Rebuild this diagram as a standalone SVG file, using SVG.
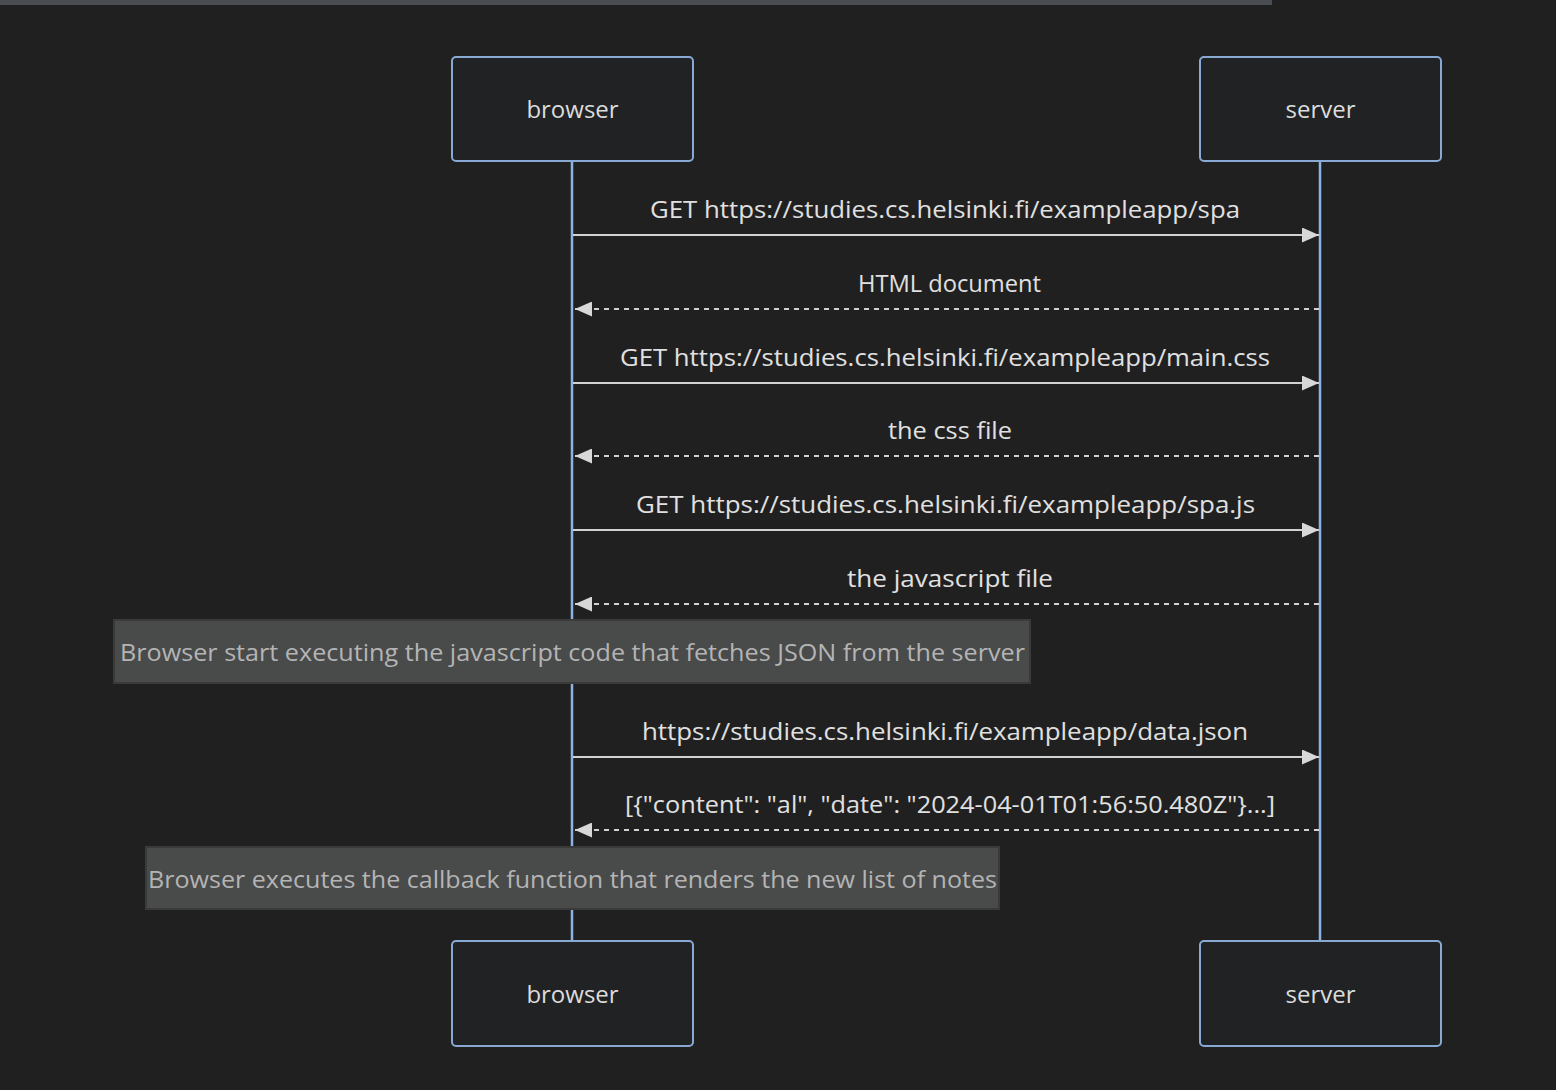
<svg xmlns="http://www.w3.org/2000/svg" width="1556" height="1090" viewBox="0 0 1556 1090">
<defs>
<style>
.actor{fill:#212223;stroke:#87a9d4;stroke-width:2}
.atext{font-family:"Open Sans","DejaVu Sans",sans-serif;font-size:24px;fill:#dcdcdc;text-anchor:middle;dominant-baseline:central}
.life{stroke:#8db3e2;stroke-width:2.5}
.msg{stroke:#d2d2d2;stroke-width:2;fill:none}
.dash{stroke-dasharray:5,5}
.mtext{font-family:"Open Sans","DejaVu Sans",sans-serif;font-size:24px;fill:#e0e0e0;text-anchor:middle;dominant-baseline:central}
.note{fill:#494a4a;stroke:#3a3a3a;stroke-width:2}
.ntext{font-family:"Open Sans","DejaVu Sans",sans-serif;font-size:24px;fill:#b4b4b4;text-anchor:middle;dominant-baseline:central}
</style>
<marker id="ah" viewBox="0 0 17 15" refX="17" refY="7.5" markerWidth="17" markerHeight="15" markerUnits="userSpaceOnUse" orient="auto">
<path d="M0,0 L17,7.5 L0,15 Z" fill="#d8d8d8"/>
</marker>
</defs>
<rect width="1556" height="1090" fill="#202020"/>
<rect x="0" y="0" width="1272" height="5" fill="#4a4d52"/>
<g id="lifelines">
<line class="life" x1="572" y1="161" x2="572" y2="941"/>
<line class="life" x1="1320" y1="161" x2="1320" y2="941"/>
</g>
<g id="actor-browser-top"><rect class="actor" x="452" y="57" width="241" height="104" rx="4"/><text class="atext" x="572.5" y="108">browser</text></g>
<g id="actor-server-top"><rect class="actor" x="1200" y="57" width="241" height="104" rx="4"/><text class="atext" x="1320.5" y="108">server</text></g>
<g id="actor-browser-bottom"><rect class="actor" x="452" y="941" width="241" height="105" rx="4"/><text class="atext" x="572.5" y="993">browser</text></g>
<g id="actor-server-bottom"><rect class="actor" x="1200" y="941" width="241" height="105" rx="4"/><text class="atext" x="1320.5" y="993">server</text></g>
<g id="connectors">
<line class="msg" x1="573" y1="235" x2="1319" y2="235" marker-end="url(#ah)"/>
<line class="msg dash" x1="1319" y1="309" x2="575" y2="309" marker-end="url(#ah)"/>
<line class="msg" x1="573" y1="383" x2="1319" y2="383" marker-end="url(#ah)"/>
<line class="msg dash" x1="1319" y1="456" x2="575" y2="456" marker-end="url(#ah)"/>
<line class="msg" x1="573" y1="530" x2="1319" y2="530" marker-end="url(#ah)"/>
<line class="msg dash" x1="1319" y1="604" x2="575" y2="604" marker-end="url(#ah)"/>
<line class="msg" x1="573" y1="757" x2="1319" y2="757" marker-end="url(#ah)"/>
<line class="msg dash" x1="1319" y1="830" x2="575" y2="830" marker-end="url(#ah)"/>
</g>
<g id="labels">
<text class="mtext" x="945" y="208" textLength="590" lengthAdjust="spacingAndGlyphs">GET https://studies.cs.helsinki.fi/exampleapp/spa</text>
<text class="mtext" x="949.5" y="282" textLength="183" lengthAdjust="spacingAndGlyphs">HTML document</text>
<text class="mtext" x="945" y="356" textLength="650" lengthAdjust="spacingAndGlyphs">GET https://studies.cs.helsinki.fi/exampleapp/main.css</text>
<text class="mtext" x="950" y="429" textLength="124" lengthAdjust="spacingAndGlyphs">the css file</text>
<text class="mtext" x="945.5" y="503" textLength="619" lengthAdjust="spacingAndGlyphs">GET https://studies.cs.helsinki.fi/exampleapp/spa.js</text>
<text class="mtext" x="950" y="577" textLength="206" lengthAdjust="spacingAndGlyphs">the javascript file</text>
<text class="mtext" x="945" y="730" textLength="606" lengthAdjust="spacingAndGlyphs">https://studies.cs.helsinki.fi/exampleapp/data.json</text>
<text class="mtext" x="950" y="803" textLength="650" lengthAdjust="spacingAndGlyphs">[{"content": "al", "date": "2024-04-01T01:56:50.480Z"}...]</text>
</g>
<g id="note-1"><rect class="note" x="114" y="620" width="916" height="63"/><text class="ntext" x="572.5" y="651" textLength="905" lengthAdjust="spacingAndGlyphs">Browser start executing the javascript code that fetches JSON from the server</text></g>
<g id="note-2"><rect class="note" x="146" y="847" width="853" height="62"/><text class="ntext" x="572.5" y="878" textLength="849" lengthAdjust="spacingAndGlyphs">Browser executes the callback function that renders the new list of notes</text></g>
</svg>
